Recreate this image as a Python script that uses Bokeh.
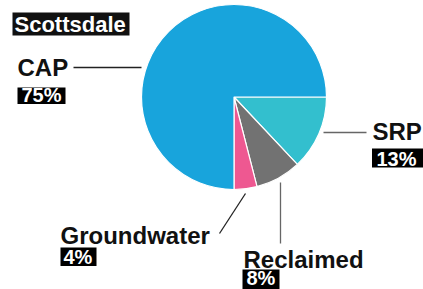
import math
from bokeh.plotting import figure
from bokeh.models import Range1d, ColumnDataSource
from bokeh.core.properties import value
from bokeh.embed import file_html
from bokeh.resources import INLINE

# ---- data ----
title = "Scottsdale"
categories = ["SRP", "Reclaimed", "Groundwater", "CAP"]
shares = [13, 8, 4, 75]
colors = ["#33BFCE", "#727272", "#EE5891", "#18A4DC"]

W, H = 423, 289
IMG_H = H  # data y = IMG_H - image y, data x = image x


def Y(img_y):
    return IMG_H - img_y


def TB(img_baseline, size):
    # empirical correction of the renderer's baseline placement
    return Y(img_baseline - 0.35 * size)


p = figure(width=W, height=H, output_backend="svg", toolbar_location=None,
           x_range=Range1d(0, W), y_range=Range1d(0, H),
           x_axis_type=None, y_axis_type=None, min_border=0,
           background_fill_color="white", border_fill_color="white")
p.outline_line_color = None
p.grid.visible = False

# ---- pie ----
cx, cy, r = 233.5, Y(96.5), 92.5
total = sum(shares)
starts, ends = [], []
acc = 0.0
for s in shares:
    starts.append(-acc / total * 2 * math.pi)
    acc += s
    ends.append(-acc / total * 2 * math.pi)
src = ColumnDataSource(dict(start=starts, end=ends, color=colors, cat=categories))
p.wedge(x=cx, y=cy, radius=r, start_angle="start", end_angle="end",
        direction="clock", fill_color="color", line_color="white",
        line_width=1.2, source=src)

FONT = value("Liberation Sans")
NAME_SIZE = 24
PCT_SIZE = 20

# ---- title ----
p.quad(left=[12], right=[129], top=[Y(12)], bottom=[Y(35)], fill_color="#111111", line_color=None)
p.text(x=[14], y=[TB(32, 22)], text=[title], text_font=FONT, text_font_style="bold",
       text_font_size="22px", text_color="white", text_baseline="alphabetic")

# ---- labels: (name x, name baseline, box l, box r, box top, box bottom, pct x, pct baseline) ----
layout = {
    "CAP": (17, 75, 17, 65, 87, 103.5, 21, 101.5),
    "SRP": (372, 139, 371.5, 423, 148, 167, 376, 165.5),
    "Groundwater": (60, 243, 60, 96, 247, 265.5, 63, 263),
    "Reclaimed": (243, 267, 242, 279, 269, 290, 246, 284.5),
}
leaders = {
    "CAP": ((73, 67), (141, 67), "#222222"),
    "SRP": ((323, 132), (366, 132), "#666666"),
    "Groundwater": ((219, 233), (245, 193), "#222222"),
    "Reclaimed": ((280, 182), (280, 243), "#666666"),
}
for cat, share in zip(categories, shares):
    nx, nb, bl, br, bt, bb, px, pb = layout[cat]
    p.text(x=[nx], y=[TB(nb, NAME_SIZE)], text=[cat], text_font=FONT, text_font_style="bold",
           text_font_size=f"{NAME_SIZE}px", text_color="#111111", text_baseline="alphabetic")
    p.quad(left=[bl], right=[br], top=[Y(bt)], bottom=[Y(bb)], fill_color="#000000", line_color=None)
    p.text(x=[px], y=[TB(pb, PCT_SIZE)], text=[f"{share}%"], text_font=FONT, text_font_style="bold",
           text_font_size=f"{PCT_SIZE}px", text_color="white", text_baseline="alphabetic")
    (x0, y0), (x1, y1), lc = leaders[cat]
    p.line(x=[x0, x1], y=[Y(y0), Y(y1)], line_color=lc, line_width=1.3)

open("out.html", "w").write(file_html(p, INLINE))
